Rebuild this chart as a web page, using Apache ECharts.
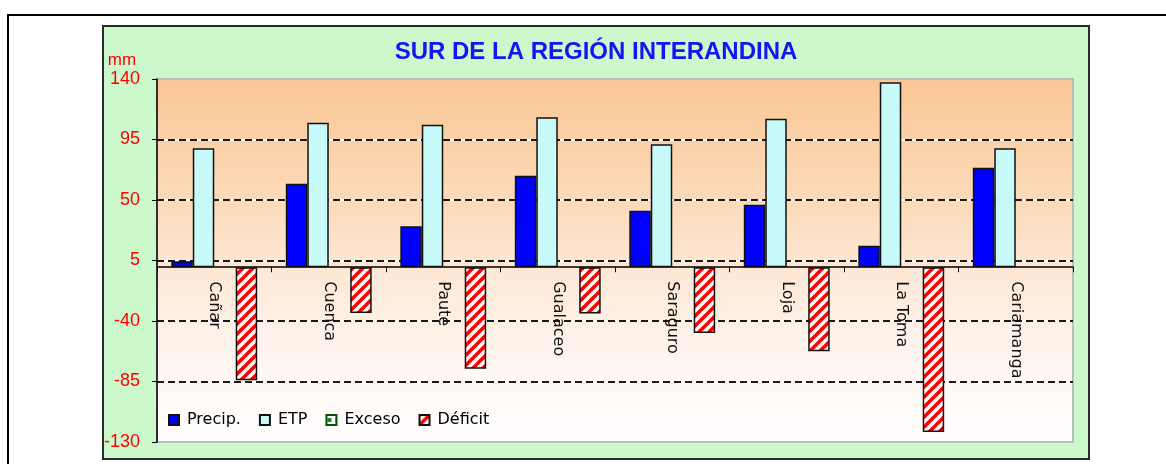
<!DOCTYPE html>
<html>
<head>
<meta charset="utf-8">
<title>Sur de la Región Interandina</title>
<script src="https://cdn.jsdelivr.net/npm/echarts@6/dist/echarts.min.js"></script>
<style>
  html, body {
    margin: 0;
    width: 1166px;
    height: 464px;
    background: #ffffff;
    overflow: hidden;
  }
  .frame {
    position: absolute;
    left: 7px;
    top: 14px;
    width: 1300px;
    height: 600px;
    border: 2px solid #000;
  }
  .panel {
    position: absolute;
    left: 102px;
    top: 25px;
    width: 984px;
    height: 431px;
    border: 2px solid #2b2b2b;
    background: #ccf9cc;
  }
  #chart {
    width: 984px;
    height: 431px;
  }
</style>
</head>
<body>
<div class="frame"></div>
<div class="panel"><div id="chart"></div></div>

<script>
const categories = ['Cañar', 'Cuenca', 'Paute', 'Gualaceo', 'Saraguro', 'Loja', 'La Toma', 'Cariamanga']
const seriesNames = ['Precip.', 'ETP', 'Exceso', 'Déficit']
const precip = [4.5, 62, 30.5, 68, 42, 46.5, 16, 74]
const etp = [88.5, 107.5, 106, 111.5, 91.5, 110.5, 137.5, 88.5]
const exceso = [null, null, null, null, null, null, null, null]
const deficit = [-84, -34, -75.5, -34.5, -49, -62.5, -122.5, null]

// eje y: -130 .. 140 de 45 en 45
const yMin = -130
const yMax = 140
const yStep = 45

const gridTop = 52
const gridBottom = 16
const chartH = 431
const gridH = chartH - gridTop - gridBottom

// rayado rojo/blanco del déficit
function stripes() {
  const c = document.createElement('canvas')
  c.width = 10
  c.height = 10
  const ctx = c.getContext('2d')
  ctx.fillStyle = '#ffffff'
  ctx.fillRect(0, 0, 10, 10)
  ctx.strokeStyle = '#ff0000'
  ctx.lineWidth = 3.6
  ;[0, 10, 20].forEach((s) => {
    ctx.beginPath()
    ctx.moveTo(s - 12, 12)
    ctx.lineTo(s + 12, -12)
    ctx.stroke()
  })
  return c
}

function dots() {
  const c = document.createElement('canvas')
  c.width = 8
  c.height = 8
  const ctx = c.getContext('2d')
  ctx.fillStyle = '#ffffff'
  ctx.fillRect(0, 0, 8, 8)
  ctx.fillStyle = '#109010'
  ctx.fillRect(1, 3, 4, 4)
  return c
}

const chart = echarts.init(document.getElementById('chart'))

// eje auxiliar desplazado para que las marcas caigan en -130, -85, ... 140
const labelAxis = (extra) => Object.assign({
  type: 'value',
  position: 'left',
  min: 0,
  max: yMax - yMin,
  interval: yStep,
  axisLine: { show: false },
  axisTick: { show: false },
  axisLabel: { show: false },
  splitLine: { show: false },
}, extra)

const barStyle = { borderColor: '#111', borderWidth: 1.5 }

const option = {
  animation: false,
  backgroundColor: 'transparent',
  title: {
    text: 'SUR DE LA REGIÓN INTERANDINA',
    left: 'center',
    top: 8,
    textStyle: {
      color: '#1414f5',
      fontFamily: 'Liberation Sans, Arial, sans-serif',
      fontWeight: 'bold',
      fontSize: 24,
    },
  },
  graphic: [
    {
      type: 'text',
      x: 18,
      y: 33,
      style: {
        text: 'mm',
        fill: '#ff0000',
        font: '17px Liberation Sans, Arial, sans-serif',
        align: 'center',
        verticalAlign: 'middle',
        textAlign: 'center',
        textVerticalAlign: 'middle',
      },
    },
  ],
  legend: {
    left: 64,
    top: 385,
    padding: 0,
    itemWidth: 10,
    itemHeight: 10,
    itemGap: 18,
    icon: 'rect',
    data: seriesNames,
    textStyle: {
      color: '#000',
      fontFamily: 'DejaVu Sans, sans-serif',
      fontSize: 16,
      padding: [0, 0, 0, 3],
    },
  },
  grid: {
    left: 53,
    top: gridTop,
    right: 15,
    bottom: gridBottom,
    containLabel: false,
    outerBoundsMode: 'none',
    show: true,
    borderColor: '#bdbdbd',
    borderWidth: 2,
    backgroundColor: new echarts.graphic.LinearGradient(0, 0, 0, 1, [
      { offset: 0, color: '#fac795' },
      { offset: 0.35, color: '#fcdbbb' },
      { offset: 0.55, color: '#fde9d9' },
      { offset: 0.8, color: '#fff7f2' },
      { offset: 1, color: '#ffffff' },
    ]),
  },
  xAxis: {
    type: 'category',
    data: categories,
    // el eje se sube hasta el cero
    offset: -gridH * (0 - yMin) / (yMax - yMin),
    axisLine: {
      onZero: false,
      lineStyle: { color: '#000', width: 1.5 },
    },
    axisTick: { show: true, length: 5, lineStyle: { color: '#000' } },
    axisLabel: {
      rotate: -90,
      margin: 14,
      color: '#111',
      fontFamily: 'DejaVu Sans, sans-serif',
      fontSize: 16,
    },
  },
  yAxis: [
    {
      type: 'value',
      min: yMin,
      max: yMax,
      axisLine: { show: false },
      axisTick: { show: false },
      axisLabel: { show: false },
      splitLine: { show: false },
    },
    labelAxis({
      splitLine: {
        show: true,
        showMinLine: false,
        showMaxLine: false,
        lineStyle: { color: '#ffffff', width: 2 },
      },
    }),
    labelAxis({
      axisLine: { show: true, lineStyle: { color: '#000', width: 1.5 } },
      axisTick: { show: true, length: 5, lineStyle: { color: '#000' } },
      axisLabel: {
        show: true,
        margin: 17,
        color: '#ff0000',
        fontFamily: 'Liberation Sans, Arial, sans-serif',
        fontSize: 18,
        formatter: (v) => String(v + yMin),
      },
      splitLine: {
        show: true,
        showMinLine: false,
        showMaxLine: false,
        lineStyle: { color: '#1a1a1a', width: 2, type: [7, 4] },
      },
    }),
  ],
  series: [
    {
      name: seriesNames[0],
      type: 'bar',
      data: precip,
      barGap: '0%',
      barCategoryGap: '25%',
      itemStyle: Object.assign({ color: '#0000ff' }, barStyle),
    },
    {
      name: seriesNames[1],
      type: 'bar',
      data: etp,
      itemStyle: Object.assign({ color: '#c8fafa' }, barStyle),
    },
    {
      name: seriesNames[2],
      type: 'bar',
      data: exceso,
      itemStyle: { color: { image: dots(), repeat: 'repeat' }, borderColor: '#0b4d0b', borderWidth: 1.5 },
    },
    {
      name: seriesNames[3],
      type: 'bar',
      data: deficit,
      itemStyle: Object.assign({ color: { image: stripes(), repeat: 'repeat' } }, barStyle),
    },
  ],
}

chart.setOption(option)
</script>
</body>
</html>
